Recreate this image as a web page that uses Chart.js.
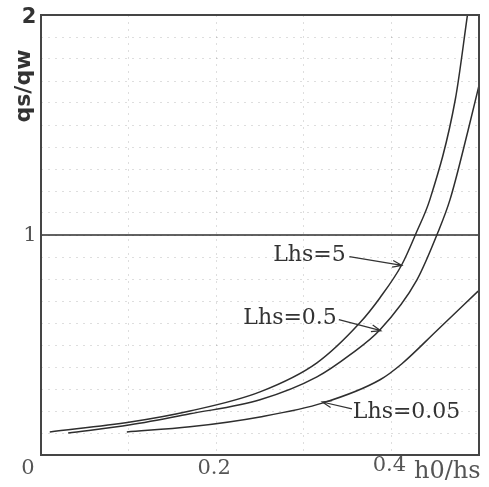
<!DOCTYPE html>
<html>
<head>
<meta charset="utf-8">
<script src="https://cdn.jsdelivr.net/npm/chart.js@4/dist/chart.umd.min.js"></script>
<style>
  html, body { margin: 0; padding: 0; background: #fff; }
  #wrap { width: 489px; height: 487px; position: relative; }
</style>
</head>
<body>
<div id="wrap"><canvas id="qsChart"></canvas></div>
<script>
// данные (h0/hs -> qs/qw)
const lhs5X = [0.010, 0.102, 0.170, 0.250, 0.315, 0.364, 0.387, 0.412, 0.429, 0.444, 0.473, 0.487];
const lhs5Y = [0.105, 0.150, 0.200, 0.287, 0.419, 0.601, 0.715, 0.866, 1.016, 1.162, 1.617, 2.005];

const lhs05X = [0.031, 0.102, 0.170, 0.250, 0.315, 0.353, 0.387, 0.429, 0.453, 0.467, 0.487, 0.500];
const lhs05Y = [0.100, 0.137, 0.187, 0.251, 0.355, 0.456, 0.569, 0.795, 1.011, 1.162, 1.467, 1.680];

const lhs005X = [0.098, 0.170, 0.250, 0.322, 0.387, 0.412, 0.452, 0.499];
const lhs005Y = [0.105, 0.128, 0.173, 0.237, 0.342, 0.415, 0.566, 0.745];

const refLineX = [0, 0.5];
const refLineY = [1, 1];

const xTickLabels = ['0', '0.2', '0.4'];
const xTickValues = [0, 0.2, 0.4];
const yTickLabels = ['2', '1'];
const yTickValues = [2, 1];

const curveNames = ['Lhs=5', 'Lhs=0.5', 'Lhs=0.05'];
// подпись: левый край текста, середина по высоте; стрелка: откуда -> куда (в единицах осей)
const labelPos = [[0.265, 0.907], [0.231, 0.620], [0.356, 0.196]];
const arrowFrom = [[0.352, 0.902], [0.340, 0.615], [0.355, 0.210]];
const arrowTo = [[0.412, 0.862], [0.388, 0.565], [0.321, 0.241]];

function toPoints(xs, ys) {
  return xs.map((x, i) => ({ x: x, y: ys[i] }));
}

const lineColor = '#2e2e2e';

function curve(label, xs, ys) {
  return {
    label: label,
    data: toPoints(xs, ys),
    borderColor: lineColor,
    borderWidth: 1.5,
    pointRadius: 0,
    showLine: true,
    fill: false,
    cubicInterpolationMode: 'monotone'
  };
}

// Плагин: рамка, подписи осей и кривых, стрелки
const annotations = {
  id: 'annotations',
  afterDraw(chart) {
    const ctx = chart.ctx;
    const xs = chart.scales.x;
    const ys = chart.scales.y;
    const area = chart.chartArea;

    ctx.save();
    ctx.strokeStyle = '#454545';
    ctx.lineWidth = 2;
    ctx.strokeRect(area.left, area.top, area.right - area.left, area.bottom - area.top);

    // подписи по оси X
    ctx.fillStyle = '#555';
    ctx.font = '21px "DejaVu Serif"';
    ctx.textBaseline = 'middle';
    ctx.textAlign = 'center';
    xTickValues.forEach((v, i) => {
      let px = xs.getPixelForValue(v);
      if (i === 0) px -= 11;
      ctx.fillText(xTickLabels[i], px - 2, area.bottom + (i === 2 ? 11 : 14));
    });
    ctx.font = '24px "DejaVu Serif"';
    ctx.textAlign = 'left';
    ctx.fillText('h0/hs', area.right - 65, area.bottom + 17);

    // подписи по оси Y
    ctx.textAlign = 'center';
    yTickValues.forEach((v, i) => {
      const py = ys.getPixelForValue(v);
      if (i === 0) {
        ctx.font = 'bold 21px "DejaVu Sans"';
        ctx.fillStyle = '#333';
        ctx.fillText(yTickLabels[i], area.left - 12, py + 3);
      } else {
        ctx.font = '21px "DejaVu Serif"';
        ctx.fillStyle = '#555';
        ctx.fillText(yTickLabels[i], area.left - 11, py + 1);
      }
    });

    ctx.save();
    ctx.translate(24, 86);
    ctx.rotate(-Math.PI / 2);
    ctx.font = 'bold 22px "DejaVu Sans"';
    ctx.fillStyle = '#333';
    ctx.textAlign = 'center';
    ctx.fillText('qs/qw', 0, 0);
    ctx.restore();

    // подписи кривых
    ctx.font = '22px "DejaVu Serif"';
    ctx.fillStyle = '#333';
    ctx.textAlign = 'left';
    curveNames.forEach((name, i) => {
      ctx.fillText(name, xs.getPixelForValue(labelPos[i][0]), ys.getPixelForValue(labelPos[i][1]));

      const x1 = xs.getPixelForValue(arrowFrom[i][0]);
      const y1 = ys.getPixelForValue(arrowFrom[i][1]);
      const x2 = xs.getPixelForValue(arrowTo[i][0]);
      const y2 = ys.getPixelForValue(arrowTo[i][1]);
      ctx.strokeStyle = '#333';
      ctx.lineWidth = 1.2;
      ctx.beginPath();
      ctx.moveTo(x1, y1);
      ctx.lineTo(x2, y2);
      const ang = Math.atan2(y2 - y1, x2 - x1);
      ctx.moveTo(x2 - 10 * Math.cos(ang - 0.35), y2 - 10 * Math.sin(ang - 0.35));
      ctx.lineTo(x2, y2);
      ctx.lineTo(x2 - 10 * Math.cos(ang + 0.35), y2 - 10 * Math.sin(ang + 0.35));
      ctx.stroke();
    });
    ctx.restore();
  }
};

const ctx = document.getElementById('qsChart').getContext('2d');
new Chart(ctx, {
  type: 'scatter',
  data: {
    datasets: [
      curve(curveNames[0], lhs5X, lhs5Y),
      curve(curveNames[1], lhs05X, lhs05Y),
      curve(curveNames[2], lhs005X, lhs005Y),
      curve('q=1', refLineX, refLineY)
    ]
  },
  options: {
    responsive: true,
    maintainAspectRatio: false,
    animation: false,
    layout: { padding: { left: 41, top: 15, right: 10, bottom: 32 } },
    plugins: {
      legend: { display: false },
      tooltip: { enabled: false }
    },
    scales: {
      x: {
        type: 'linear',
        min: 0,
        max: 0.5,
        ticks: { display: false, stepSize: 0.1 },
        grid: { color: 'rgba(0,0,0,0.13)', drawTicks: false, lineWidth: 1 },
        border: { display: false, dash: [2, 5] }
      },
      y: {
        type: 'linear',
        min: 0,
        max: 2,
        ticks: { display: false, stepSize: 0.1 },
        grid: { color: 'rgba(0,0,0,0.13)', drawTicks: false, lineWidth: 1 },
        border: { display: false, dash: [2, 5] }
      }
    }
  },
  plugins: [annotations]
});
</script>
</body>
</html>
